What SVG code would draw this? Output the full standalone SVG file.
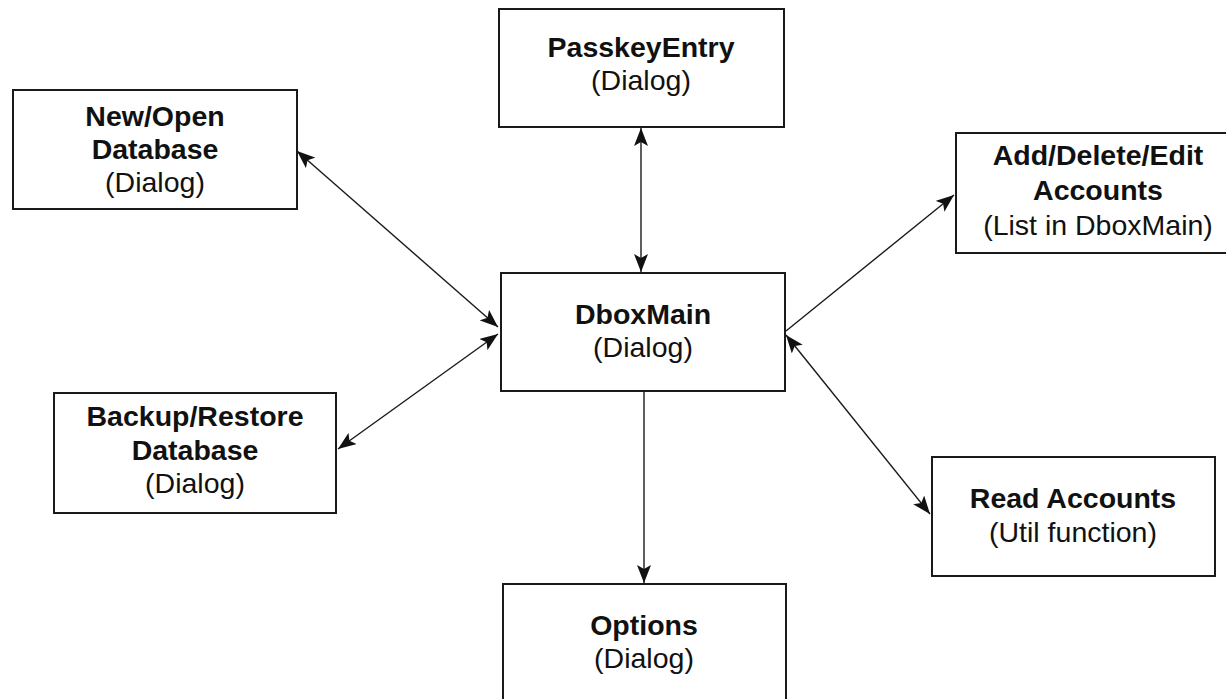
<svg xmlns="http://www.w3.org/2000/svg" width="1226" height="699" viewBox="0 0 1226 699">
<style>
.box{fill:#fff;stroke:#1a1a1a;stroke-width:2}
.t{font-family:"Liberation Sans",Arial,sans-serif;font-size:28.5px;fill:#111;text-anchor:middle}
.b{font-weight:bold}
.c{stroke:#1a1a1a;stroke-width:1.4;fill:none}
</style>
<defs>
<marker id="ah" markerUnits="userSpaceOnUse" markerWidth="20" markerHeight="14" refX="18" refY="7" orient="auto-start-reverse">
<path d="M0,0 L18,7 L0,14 L4,7 Z" fill="#111"/>
</marker>
</defs>
<rect width="1226" height="699" fill="#fff"/>
<g id="connectors">
<line class="c" x1="297" y1="151" x2="498" y2="327" marker-start="url(#ah)" marker-end="url(#ah)"/>
<line class="c" x1="338" y1="449" x2="498" y2="334" marker-start="url(#ah)" marker-end="url(#ah)"/>
<line class="c" x1="641" y1="128" x2="641" y2="272" marker-start="url(#ah)" marker-end="url(#ah)"/>
<line class="c" x1="644" y1="392" x2="644" y2="583" marker-end="url(#ah)"/>
<line class="c" x1="786" y1="331" x2="954" y2="195" marker-end="url(#ah)"/>
<line class="c" x1="786" y1="335" x2="930" y2="514" marker-start="url(#ah)" marker-end="url(#ah)"/>
</g>
<g id="newopen">
<rect class="box" x="13" y="90" width="284" height="119"/>
<text class="t b" x="155" y="126">New/Open</text>
<text class="t b" x="155" y="159">Database</text>
<text class="t" x="155" y="192">(Dialog)</text>
</g>
<g id="passkey">
<rect class="box" x="499" y="9" width="285" height="118"/>
<text class="t b" x="641" y="57">PasskeyEntry</text>
<text class="t" x="641" y="90">(Dialog)</text>
</g>
<g id="adddelete">
<rect class="box" x="956" y="133" width="290" height="120"/>
<text class="t b" x="1098" y="165">Add/Delete/Edit</text>
<text class="t b" x="1098" y="200">Accounts</text>
<text class="t" x="1098" y="235">(List in DboxMain)</text>
</g>
<g id="backup">
<rect class="box" x="54" y="393" width="282" height="120"/>
<text class="t b" x="195" y="426">Backup/Restore</text>
<text class="t b" x="195" y="460">Database</text>
<text class="t" x="195" y="493">(Dialog)</text>
</g>
<g id="dboxmain">
<rect class="box" x="501" y="273" width="284" height="118"/>
<text class="t b" x="643" y="324">DboxMain</text>
<text class="t" x="643" y="357">(Dialog)</text>
</g>
<g id="readaccounts">
<rect class="box" x="932" y="457" width="283" height="119"/>
<text class="t b" x="1073" y="508">Read Accounts</text>
<text class="t" x="1073" y="542">(Util function)</text>
</g>
<g id="options">
<rect class="box" x="503" y="584" width="283" height="130"/>
<text class="t b" x="644" y="635">Options</text>
<text class="t" x="644" y="668">(Dialog)</text>
</g>
</svg>
